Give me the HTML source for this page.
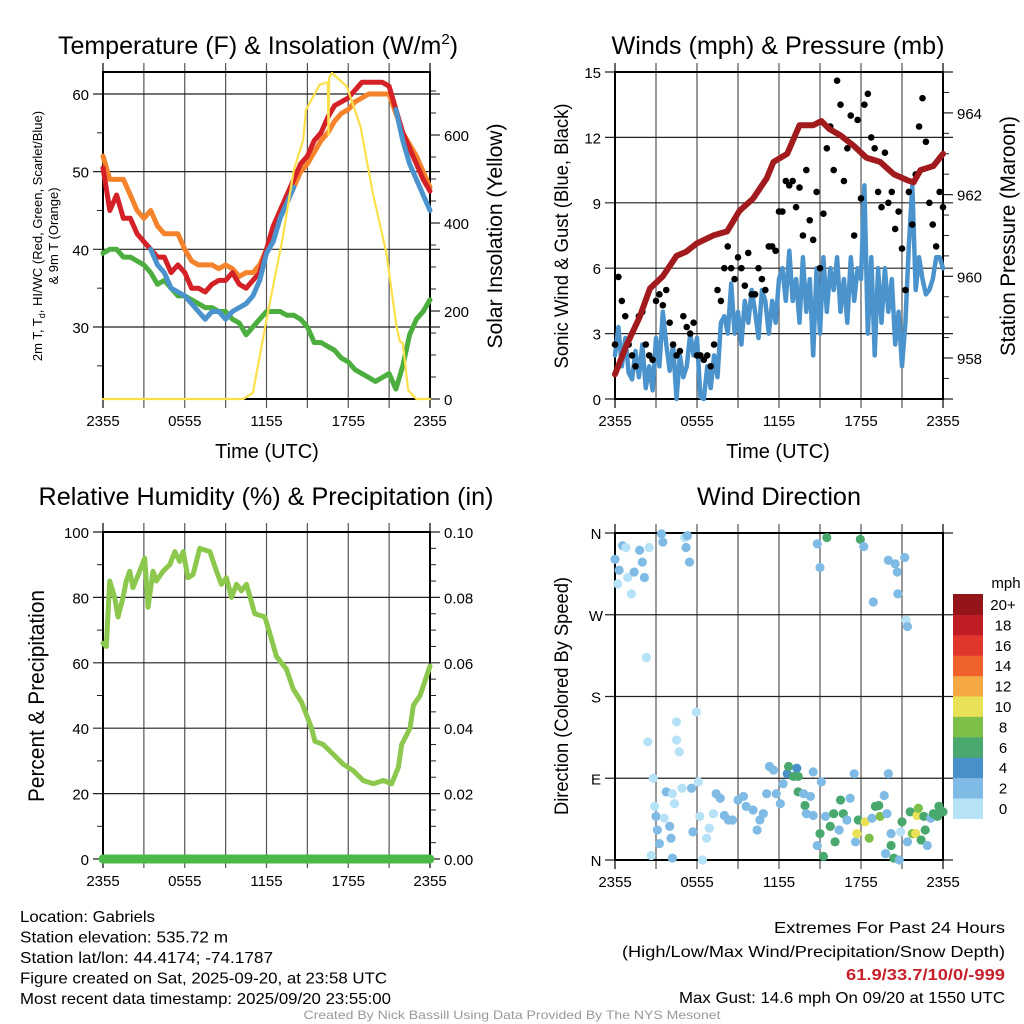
<!DOCTYPE html>
<html><head><meta charset="utf-8">
<style>
html,body{margin:0;padding:0;background:#fff;}
svg{display:block;font-family:"Liberation Sans",sans-serif;}
</style></head>
<body>
<svg id="chart" width="1024" height="1024" viewBox="0 0 1024 1024" xmlns="http://www.w3.org/2000/svg"></svg>
<script>
// ---------- DATA ----------
const halfHours = []; for (let i = 0; i <= 48; i++) halfHours.push(i * 0.5);
const quarterHours = []; for (let i = 0; i <= 96; i++) quarterHours.push(i * 0.25);
const tempRed = [50.5,45,47,44,44,42,41,40,39,39,37,38,37,35,35,34.5,35.5,36,36,37,35.5,35,36,37,40,43,45,47,49,51,52,54,55,57,58.5,59,59.5,60.5,61.5,61.5,61.5,61.5,61,58,55,53,51,49,47.5];
const temp9m = [52,49,49,49,47,45,44,45,43,42,42,42,40,38.5,38,38,38,37.5,38,37.5,36.5,37,37,38,40,42,44,46,48,50,51,52.5,54,55,56.5,57.5,58,59,59.5,60,60,60,60,57.5,55,53.5,52,50,48];
const dewPt = [39.5,40,40,39,39,38.5,38,37,35.5,36,35,34,34,33.5,33,32.5,32.5,32,32,31,30.5,29,30,31,32,32,32,31.5,31.5,31,30,28,28,27.5,27,26,25.5,24.5,24,23.5,23,23.5,24,22,25,29,31,32,33.5];
const windChill = [null,null,null,null,null,null,null,40,38,37,35,34.5,34,33,32,31,32,32,31,32,32.5,33,34,36,39.5,41,44,46,48,null,null,null,null,null,null,null,null,null,null,null,null,null,null,58,54,51,49,47,45];
const solarHours = [0,10.3,11,12,13.2,14,14.7,14.9,15.9,16.5,16.55,16.6,16.8,17.9,18.9,19.8,20.8,21.55,21.8,22,22.4,23,24];
const solarVals = [0,0,14,180,368,520,590,657,714,720,600,730,741,710,619,468,332,164,130,127,20,0,0];

const windSpd = [2,3.3,1.5,2.8,1.2,0.9,2.2,1.0,2.5,
 0.5,1.5,0.4,2.8,1.5,4,2.5,1.3,
 2.5,0,2,1,1.5,3,2,2.8,
 0.1,0,1.5,0.5,2,1,3.5,3.8,
 3,5.3,3,4,2.5,4.5,3.5,5,
 4,2.8,5,4.5,3,4.5,3.5,5.5,
 6,4.5,6.8,4.5,5.5,3.5,6.5,4,
 5.5,2,6,3,6.5,4,6,5,
 6.5,4,5.5,3.5,6.5,4.5,6,5.5,
 9.8,3,6.5,2,6,3.5,6,4,
 5.5,2.5,4,1.5,3.5,7,9.8,5,
 6.5,5.5,4.8,5,5.5,6.5,6.5,6];
const gustVals = [2.5,5.6,4.5,3.8,2.5,2,1.5,3.8,4,
 2.5,2,1.8,4.5,4.8,4.3,5,3.5,
 2.5,2,2.2,3.8,3.3,3,3.5,2,
 2,1.8,2,1.5,2.5,5,4.5,6,
 7,6,5.5,6.5,6,5.2,6.7,4.8,
 4.8,6,5.5,5,7,7,6.8,8.6,
 8.6,10,9.8,10,8.8,9.7,7.5,10.5,
 8.2,7.3,9.5,6,8.5,11.5,12.5,10.5,
 14.6,13.5,10,11.5,13,7.5,12.8,9.2,
 13.5,14,12,11.5,9.5,8.8,11.3,9,
 9.5,7.8,8.6,6.9,5,9.5,8,10.3,
 12.5,13.8,11.8,9,8,7,9.5,8.8];
const presHours = [0,.83,1.8,2.55,3.5,4.5,5.2,5.96,7.2,8.2,9.1,10.1,11.1,11.6,12.6,13.5,14.5,15.1,15.7,16.5,17.45,18.4,19.4,20.4,21.4,21.85,22.35,23.3,24];
const presVals = [957.6,958.3,959.0,959.7,960.0,960.5,960.6,960.8,961.0,961.1,961.6,961.9,962.4,962.8,963.0,963.7,963.7,963.8,963.6,963.45,963.2,962.9,962.8,962.5,962.35,962.3,962.6,962.7,963.0];

const rhHours = [0,.24,.49,.86,1.1,1.47,1.71,1.96,2.2,2.69,3.06,3.31,3.67,3.92,4.41,4.9,5.27,5.63,5.88,6.24,6.61,7.1,7.84,8.33,8.69,9.06,9.43,9.8,10.16,10.53,11.14,11.88,12.24,12.73,13.47,13.96,14.57,15.31,15.55,16.16,16.9,17.63,18.37,19.1,19.84,20.57,21.18,21.67,21.92,22.53,22.78,23.27,24];
const rhVals = [66,65,85,80,74,80,85,88,83,88,92,77,88,85,88,90,94,91,94,86,87,95,94,88,84,86,80,84,82,84,75,74,69,62,58,52,48,40,36,35,32,29,27,24,23,24,23,28,35,40,47,50,59];
const precipVals = [0,0];

const wdHours = [0,.2,.3,.56,.8,.93,1.2,1.4,1.8,2.0,2.15,2.5,2.3,2.4,2.8,2.9,3.0,3.1,3.25,2.65,3.4,3.5,3.75,3.6,4.0,4.1,4.2,4.2,4.35,4.5,4.5,4.7,4.9,5.1,5.2,5.3,5.45,5.6,5.7,5.95,6.1,6.2,6.4,6.7,6.9,7.2,7.4,7.7,8.0,8.3,8.6,9.0,9.4,9.6,10.1,10.4,10.6,10.85,11.1,11.3,11.6,11.8,12.1,12.3,12.6,12.7,13.05,13.3,13.4,13.4,13.8,13.9,14.0,14.3,14.5,14.5,14.8,15.0,15.1,15.25,15.4,15.5,14.8,15.0,15.75,16.0,16.1,16.4,16.5,16.7,16.97,17.2,17.5,17.6,17.7,17.8,17.95,18.2,18.3,18.6,18.8,18.9,19.05,19.3,19.4,19.7,19.9,20.0,19.8,20.0,20.2,20.2,20.4,20.5,20.65,20.7,20.8,20.9,21.0,21.2,21.3,21.4,21.4,21.6,21.75,22.0,22.1,22.2,22.4,22.6,22.7,22.85,23.1,23.3,23.6,23.7,23.8,24.0];
const wdDeg = [331,304,319,346,344,311,293,317,341,328,311,344,223,130,90,59,48,33,18,5,359,350,75,46,37,24,2,73,62,152,132,119,79,355,344,357,328,79,31,163,86,48,0,24,35,51,73,68,49,44,44,66,70,59,55,33,44,51,73,103,99,73,62,84,95,103,92,101,92,75,73,60,51,70,97,49,16,29,86,4,48,355,348,322,37,51,20,33,66,51,44,68,95,20,29,44,353,345,42,24,46,284,59,60,48,71,51,95,7,330,16,29,2,326,317,293,0,31,42,333,264,257,20,53,29,29,49,57,22,48,33,16,46,51,48,59,55,53];
const wdSpd = [3,1,2.5,3,1,1,0.5,2.5,3,3,2.5,0.5,0.5,0.5,0.5,1,2.5,3.5,3.5,0.5,3,3.5,2.5,1.5,2.5,2.5,3,0.5,0.5,0.5,0.5,0.5,0.5,0.5,2.5,2.5,3,2.5,2,0.5,0.5,0.5,0.5,0.5,1.5,0.5,2.5,3.5,3.5,3.5,3.5,3.5,3.5,3.5,3.5,2.5,2.5,3.5,2.5,2.5,3.5,3.5,3.5,3.5,4.5,6.5,6.5,4.5,6.5,6.5,3.5,6.5,3.5,3.5,2.5,2.5,3.5,6.5,3.5,6.5,3.5,6.5,3,3,6.5,6.5,6.5,3.5,6.5,6.5,3.5,3.5,3.5,3.5,10.5,6.5,6.5,3.5,10.5,8.5,3.5,2.5,6.5,6.5,8.5,3.5,3.5,3.5,3.5,3.5,6.5,3.5,6.5,2.5,2.5,2.5,3.5,1.5,6.5,2.5,0.5,2.5,3.5,6.5,8.5,10.5,10.5,8.5,6.5,6.5,6.5,3.5,3.5,6.5,6.5,6.5,6.5,6.5];

const timeLabels = ['2355','0555','1155','1755','2355'];
const tempTicks = [30,40,50,60];
const solarTicks = [0,200,400,600];
const windTicks = [0,3,6,9,12,15];
const presTicks = [958,960,962,964];
const rhTicks = [0,20,40,60,80,100];
const precipTicks = ['0.00','0.02','0.04','0.06','0.08','0.10'];
const dirLabels = ['N','E','S','W','N'];
const cbLabels = ['0','2','4','6','8','10','12','14','16','18','20+'];
const cbColors = ['#b5e2f7','#7fbbe4','#4a90c8','#48a86e','#7cc04a','#e9e258','#f6a843','#ef622e','#e0362c','#c01c24','#931519'];

// ---------- HELPERS ----------
const NS = 'http://www.w3.org/2000/svg';
const svg = document.getElementById('chart');
function mk(tag, attrs, parent) {
  const e = document.createElementNS(NS, tag);
  for (const k in attrs) e.setAttribute(k, attrs[k]);
  (parent || svg).appendChild(e);
  return e;
}
function txt(s, x, y, size, anchor, parent, extra) {
  const a = Object.assign({x: x, y: y, 'font-size': size, 'text-anchor': anchor || 'middle', fill: '#000'}, extra || {});
  const t = mk('text', a, parent);
  t.textContent = s;
  return t;
}
const P1 = {x0:103, x1:430, y0:72, y1:399};
const P2 = {x0:615, x1:943, y0:72, y1:399};
const P3 = {x0:103, x1:430, y0:532, y1:859};
const P4 = {x0:615, x1:943, y0:533, y1:860};
function tx(p, t) { return p.x0 + t / 24 * (p.x1 - p.x0); }
const yTemp = v => 327 - (v - 30) * 7.767;
const ySolar = v => 399 - v * 0.44;
const yWind = v => 399 - v * 21.8;
const yPres = v => 358 - (v - 958) * 40.85;
const yRH = v => 859 - v * 3.27;
const yPrecip = v => 859 - v * 3270;
const yDir = v => 860 - v * 327 / 360;

function frame(p, g, leftTicksY, rightTicksY, minorL, minorR) {
  for (let i = 0; i <= 8; i++) {
    const x = tx(p, i * 3);
    mk('line', {x1:x, y1:p.y0 - 9, x2:x, y2:p.y1 + 9, stroke: (i===0||i===8)?'#000':'#555', 'stroke-width':1.2}, g);
  }
  leftTicksY.forEach(y => mk('line', {x1:p.x0 - 10, y1:y, x2:p.x1 + 10, y2:y, stroke:'#222', 'stroke-width':1.2}, g));
  rightTicksY.forEach(y => mk('line', {x1:p.x1, y1:y, x2:p.x1 + 10, y2:y, stroke:'#222', 'stroke-width':1.2}, g));
  (minorL||[]).forEach(y => mk('line', {x1:p.x0 - 6, y1:y, x2:p.x0, y2:y, stroke:'#222', 'stroke-width':1}, g));
  (minorR||[]).forEach(y => mk('line', {x1:p.x1, y1:y, x2:p.x1 + 6, y2:y, stroke:'#222', 'stroke-width':1}, g));
  mk('rect', {x:p.x0, y:p.y0, width:p.x1 - p.x0, height:p.y1 - p.y0, fill:'none', stroke:'#000', 'stroke-width':2}, g);
  timeLabels.forEach((s, i) => {
    const t = txt(s, tx(p, i * 6), p.y1 + 27, 15, 'middle', g);
    
    
  });
}
function linePath(xs, ys, px, py, color, w, g, name) {
  let d = '', pen = false;
  for (let i = 0; i < xs.length; i++) {
    if (ys[i] === null) { pen = false; continue; }
    d += (pen ? 'L' : 'M') + px(xs[i]).toFixed(1) + ',' + py(ys[i]).toFixed(1);
    pen = true;
  }
  const e = mk('path', {d: d, fill:'none', stroke: color, 'stroke-width': w, 'stroke-linejoin':'round', 'stroke-linecap':'round'}, g);
  
  
  return e;
}
function rotLabel(s, x, y, size, g, name, len) {
  const t = txt(s, x, y, size, 'middle', g, {transform: 'rotate(-90 ' + x + ' ' + y + ')'});
  if (len) { t.setAttribute('textLength', len); t.setAttribute('lengthAdjust', 'spacingAndGlyphs'); }
  
  
  return t;
}

// ---------- PANEL 1: TEMPERATURE ----------
const g1 = mk('g', {});


{
  const minorL = [25,35,45,55].map(yTemp);
  const minorR = [50,100,150,250,300,350,450,500,550,650,700].map(ySolar);
  frame(P1, g1, tempTicks.map(yTemp), solarTicks.map(ySolar), minorL, minorR);
  tempTicks.forEach(v => { const t = txt(String(v), P1.x0 - 14, yTemp(v) + 6, 15, 'end', g1);   });
  solarTicks.forEach(v => { const t = txt(String(v), P1.x1 + 14, ySolar(v) + 6, 15, 'start', g1);   });
  const px = t => tx(P1, t);
  linePath(halfHours, dewPt, px, yTemp, '#4cae3e', 5, g1, 'dewpoint-line');
  linePath(halfHours, temp9m, px, yTemp, '#f4832b', 5, g1, 'temp-9m-line');
  linePath(halfHours, tempRed, px, yTemp, '#d42128', 5, g1, 'temp-2m-line');
  linePath(halfHours, windChill, px, yTemp, '#4b93cc', 5, g1, 'windchill-line');
  linePath(solarHours, solarVals, px, ySolar, '#fbe04a', 2.2, g1, 'solar-line');
  const title = txt('', 258, 54, 25, 'middle', g1);
  title.innerHTML = 'Temperature (F) &amp; Insolation (W/m<tspan dy="-10" font-size="15">2</tspan><tspan dy="10">)</tspan>';
  
  
  const xt = txt('Time (UTC)', 267, 458, 20, 'middle', g1);
  
  
  const yl = txt('', 42, 236, 13, 'middle', g1, {transform:'rotate(-90 42 236)'});
  yl.innerHTML = '2m T, T<tspan dy="3" font-size="9">d</tspan><tspan dy="-3">, HI/WC (Red, Green, Scarlet/Blue)</tspan>';
  
  
  rotLabel('& 9m T (Orange)', 58, 236, 13, g1, 'y-axis-title-line2');
  rotLabel('Solar Insolation (Yellow)', 502, 236, 21, g1, 'y2-axis-title', 225);
}

// ---------- PANEL 2: WINDS ----------
const g2 = mk('g', {});


{
  const minorR = [957.5,958.5,959,959.5,960.5,961,961.5,962.5,963,963.5,964.5].map(yPres);
  frame(P2, g2, windTicks.map(yWind), presTicks.map(yPres), [], minorR);
  windTicks.forEach(v => { const t = txt(String(v), P2.x0 - 14, yWind(v) + 6, 15, 'end', g2);   });
  presTicks.forEach(v => { const t = txt(String(v), P2.x1 + 14, yPres(v) + 6, 15, 'start', g2);   });
  const px = t => tx(P2, t);
  linePath(quarterHours, windSpd, px, yWind, '#4b93cc', 4.5, g2, 'wind-speed-line');
  gustVals.forEach((v, i) => {
    const c = mk('circle', {cx: px(i * 0.25), cy: yWind(v), r: 3.3, fill:'#000'}, g2);
    
    
  });
  linePath(presHours, presVals, px, yPres, '#a11a1d', 6, g2, 'pressure-line');
  const title = txt('Winds (mph) & Pressure (mb)', 778, 54, 25, 'middle', g2, {textLength: 333, lengthAdjust:'spacingAndGlyphs'});
  
  
  const xt = txt('Time (UTC)', 778, 458, 20, 'middle', g2);
  
  
  rotLabel('Sonic Wind & Gust (Blue, Black)', 568, 236, 19, g2, 'y-axis-title', 265);
  rotLabel('Station Pressure (Maroon)', 1015, 236, 21, g2, 'y2-axis-title', 240);
}

// ---------- PANEL 3: RH ----------
const g3 = mk('g', {});


{
  const minorR = [];
  for (let v = 5; v < 100; v += 5) if (v % 20) minorR.push(yRH(v));
  const minorL = [10,30,50,70,90].map(yRH);
  frame(P3, g3, rhTicks.map(yRH), [], minorL, minorR);
  rhTicks.forEach(v => { const t = txt(String(v), P3.x0 - 14, yRH(v) + 6, 15, 'end', g3);   });
  precipTicks.forEach((s, i) => { const t = txt(s, P3.x1 + 14, yRH(i * 20) + 6, 15, 'start', g3);   });
  const px = t => tx(P3, t);
  linePath(rhHours, rhVals, px, yRH, '#8dc84e', 5, g3, 'rh-line');
  linePath([0, 24], precipVals, px, yPrecip, '#4cb848', 9, g3, 'precip-line');
  const title = txt('Relative Humidity (%) & Precipitation (in)', 266, 505, 25, 'middle', g3, {textLength: 455, lengthAdjust: 'spacingAndGlyphs'});
  
  
  rotLabel('Percent & Precipitation', 44, 696, 22, g3, 'y-axis-title', 212);
}

// ---------- PANEL 4: WIND DIRECTION ----------
const g4 = mk('g', {});


{
  frame(P4, g4, [0,90,180,270,360].map(yDir), [], [], []);
  dirLabels.forEach((s, i) => { const t = txt(s, P4.x0 - 19, yDir(i * 90) + 6, 15, 'middle', g4);   });
  const px = t => tx(P4, t);
  wdHours.forEach((h, i) => {
    const bin = Math.min(10, Math.floor(wdSpd[i] / 2));
    const c = mk('circle', {cx: px(h), cy: yDir(wdDeg[i]), r: 4.6, fill: cbColors[bin]}, g4);
    
    
  });
  const title = txt('Wind Direction', 779, 505, 25, 'middle', g4, {textLength: 164, lengthAdjust:'spacingAndGlyphs'});
  
  
  rotLabel('Direction (Colored By Speed)', 568, 696, 19, g4, 'y-axis-title', 238);
  const cb = mk('g', {}, g4);
  
  
  const cbTop = 594, cbH = 20.4;
  cbColors.forEach((col, i) => {
    const r = mk('rect', {x:953, y: cbTop + (10 - i) * cbH, width:30, height: cbH + 0.5, fill: col}, cb);
    
    
    const t = txt(cbLabels[i], 1003, cbTop + (10 - i) * cbH + 16, 15, 'middle', cb);
    
    
  });
  const u = txt('mph', 1006, 588, 15, 'middle', cb);
  
  
}

// ---------- FOOTER TEXT ----------
const info = mk('g', {});


const leftLines = ['Location: Gabriels','Station elevation: 535.72 m','Station lat/lon: 44.4174; -74.1787','Figure created on Sat, 2025-09-20, at 23:58 UTC','Most recent data timestamp: 2025/09/20 23:55:00'];
const leftLens = [135,208,253,367,371];
leftLines.forEach((s, i) => {
  const t = txt(s, 20, 922 + i * 20.5, 16, 'start', info, {textLength: leftLens[i], lengthAdjust:'spacingAndGlyphs'});
  
  
});
const ext = mk('g', {});


const rightLines = ['Extremes For Past 24 Hours','(High/Low/Max Wind/Precipitation/Snow Depth)','61.9/33.7/10/0/-999','Max Gust: 14.6 mph On 09/20 at 1550 UTC'];
const rightLens = [231,383,159,326];
const rightY = [933,957,980,1003];
rightLines.forEach((s, i) => {
  const extra = {textLength: rightLens[i], lengthAdjust:'spacingAndGlyphs'};
  if (i === 2) { extra.fill = '#c8202a'; extra['font-weight'] = 'bold'; }
  const t = txt(s, 1005, rightY[i], 16, 'end', ext, extra);
  
  
});
const credit = txt('Created By Nick Bassill Using Data Provided By The NYS Mesonet', 512, 1019, 12, 'middle', svg, {fill:'#999', textLength: 417, lengthAdjust:'spacingAndGlyphs'});


</script>
</body></html>
